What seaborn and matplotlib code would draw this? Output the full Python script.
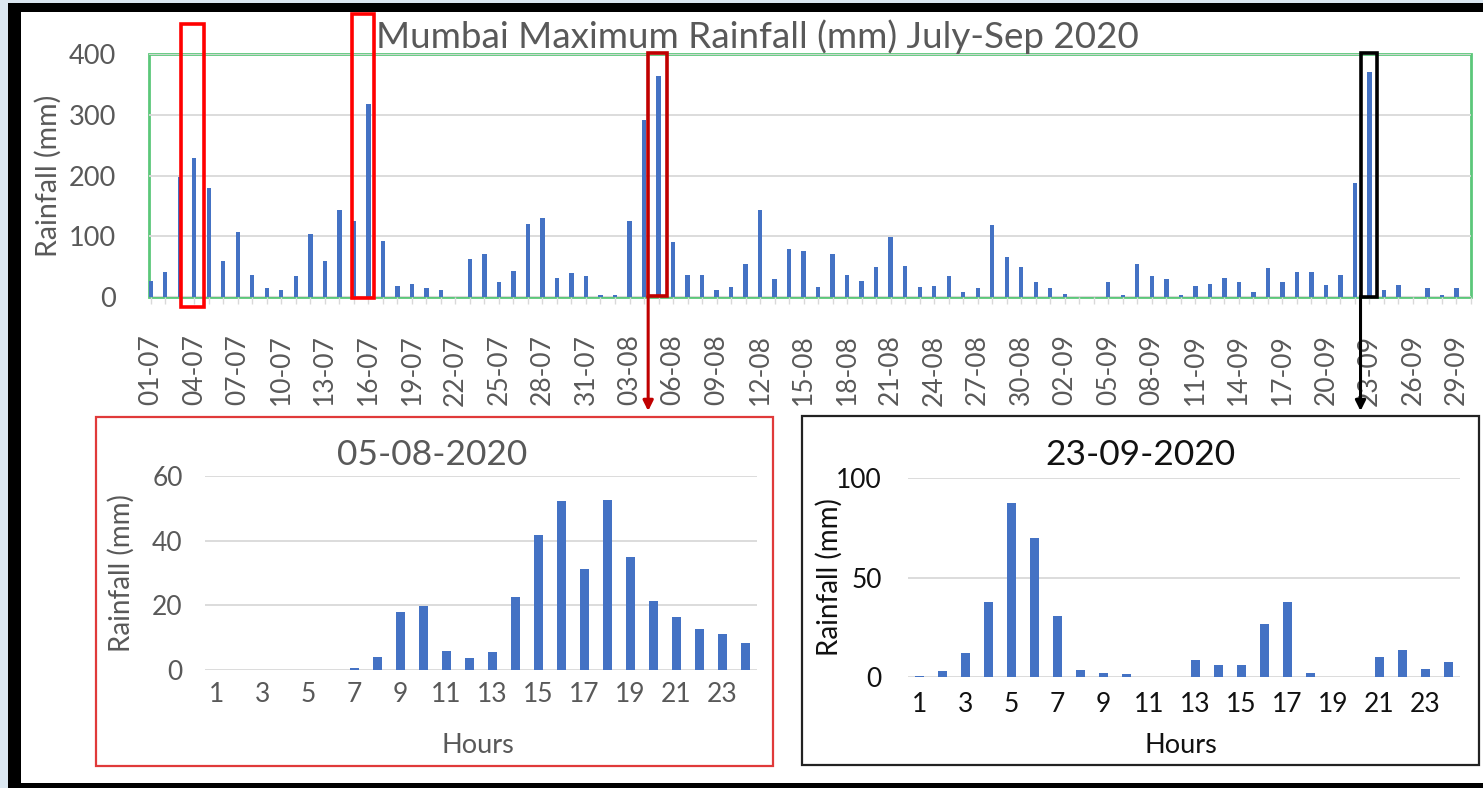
import matplotlib
matplotlib.use("Agg")
import matplotlib.pyplot as plt
import seaborn as sns
import pandas as pd
from matplotlib.patches import Rectangle

# ---------------- data ----------------
july_rain = [27, 41, 198, 229, 180, 59, 107, 36, 15, 11, 35, 103, 59, 144, 125, 318,
             92, 18, 22, 14, 11, 0, 62, 70, 24, 43, 120, 130, 31, 40, 35]
aug_rain = [4, 3, 125, 292, 364, 91, 37, 37, 11, 16, 55, 143, 30, 79, 76, 16,
            70, 37, 27, 49, 99, 51, 16, 18, 35, 8, 14, 119, 66, 49, 25]
sep_rain = [15, 5, 0, 0, 25, 4, 54, 34, 29, 3, 18, 22, 31, 24, 9, 48,
            24, 41, 41, 19, 36, 188, 371, 11, 19, 0, 14, 4, 14, 0]
dates = ([f"{d:02d}-07" for d in range(1, 32)] +
         [f"{d:02d}-08" for d in range(1, 32)] +
         [f"{d:02d}-09" for d in range(1, 31)])
daily_rain = july_rain + aug_rain + sep_rain

hours = [str(h) for h in range(1, 25)]
hourly_0508 = [0, 0, 0, 0, 0, 0, 0.6, 4.1, 17.8, 19.7, 5.8, 3.6, 5.6, 22.6,
               41.8, 52.3, 31.2, 52.7, 34.8, 21.2, 16.3, 12.6, 11.0, 8.3]
hourly_2309 = [0.7, 3.0, 12.1, 37.9, 87.3, 70.0, 30.6, 3.3, 2.0, 1.3, 0, 0,
               8.3, 6.1, 6.1, 26.8, 37.9, 2.0, 0, 0, 10.3, 13.7, 3.8, 7.3]

main_title = "Mumbai Maximum Rainfall (mm) July-Sep 2020"
inset1_title = "05-08-2020"
inset2_title = "23-09-2020"
y_label = "Rainfall (mm)"
x_label_inset = "Hours"

# highlighted dates: (date, x offset, width, y bottom, y top, colour)
highlights = [("04-07", -0.12, 1.58, -16.5, 449, "#ff0000"),
              ("16-07", -0.37, 1.52, -1.6, 466, "#ff0000"),
              ("05-08", -0.08, 1.27, 1.6, 402, "#c00000"),
              ("23-09", -0.03, 1.17, 0.0, 402, "#000000")]

# ---------------- style ----------------
sns.set_style("white")
plt.rcParams["font.family"] = ["Lato", "DejaVu Sans"]
BLUE = "#4472c4"
GREY = "#595959"
GRID = "#d9d9d9"

W, H = 1483, 788
fig = plt.figure(figsize=(W / 100, H / 100), dpi=100)
fig.patch.set_facecolor("#dbe7f1")


def fbox(x0, y0, x1, y1):
    """pixel box (top-left origin) -> figure fraction rect"""
    return [x0 / W, 1 - y1 / H, (x1 - x0) / W, (y1 - y0) / H]


# outer frame
fig.patches.append(Rectangle((8 / W, 0), 1, 1 - 3 / H, transform=fig.transFigure,
                             facecolor="black", edgecolor="none", zorder=-10))
fig.patches.append(Rectangle((21 / W, 5 / H), 1, 1 - 17 / H, transform=fig.transFigure,
                             facecolor="white", edgecolor="none", zorder=-9))

# ---------------- main chart ----------------
ax = fig.add_axes(fbox(149, 54, 1471, 297))
df = pd.DataFrame({"date": dates, "rain": daily_rain})
sns.barplot(data=df, x="date", y="rain", color=BLUE, saturation=1, width=0.3,
            linewidth=0, ax=ax)
ax.set_xlim(-0.12, len(dates) - 1.04)
ax.set_ylim(0, 400)
ax.set_yticks([0, 100, 200, 300, 400])
ax.yaxis.grid(True, color=GRID, linewidth=1.3)
ax.set_axisbelow(True)
for s in ax.spines.values():
    s.set_visible(False)
ax.add_patch(Rectangle((0, 0), 1, 1, transform=ax.transAxes, fill=False,
                       edgecolor="#5cc77a", linewidth=2, clip_on=False, zorder=0.5))
ax.axhline(0, color=GRID, linewidth=1.5, zorder=0.6)
ax.set_xticks(range(len(dates)))
ax.set_xticklabels([d if i % 3 == 0 else "" for i, d in enumerate(dates)],
                   rotation=90)
ax.tick_params(axis="x", length=5, width=1, color=GRID, pad=22, labelsize=19,
               labelcolor=GREY, bottom=True)
ax.tick_params(axis="y", length=0, pad=24, labelsize=19.5, labelcolor=GREY)
ax.set_xlabel("")
ax.set_ylabel(y_label, fontsize=20.5, color=GREY)
ax.yaxis.set_label_coords(-0.066, 0.5)

# highlight boxes
for d, dx, bw, yb, yt, col in highlights:
    i = dates.index(d)
    ax.add_patch(Rectangle((i + dx - bw / 2, yb), bw, yt - yb, fill=False,
                           edgecolor=col, linewidth=2.6, clip_on=False, zorder=5))

fig.text(757 / W, 1 - 37 / H, main_title, ha="center", va="center",
         fontsize=26.5, color=GREY)

# arrows from boxes to insets
for d, dx, bw, col in [("05-08", -0.08, 1.27, "#c00000"), ("23-09", -0.03, 1.17, "#000000")]:
    i = dates.index(d)
    xpix = ax.transData.transform((i + dx - bw / 2, 0))[0]
    ax.annotate("", xy=(xpix, H - 411), xycoords="figure pixels",
                xytext=(xpix, H - 296), textcoords="figure pixels",
                arrowprops=dict(arrowstyle="-|>,head_length=0.6,head_width=0.3",
                                color=col, lw=2.2, shrinkA=0, shrinkB=0))

# inset frames
fig.patches.append(Rectangle((96 / W, 1 - 766 / H), (773 - 96) / W, (766 - 417) / H,
                             transform=fig.transFigure, fill=False,
                             edgecolor="#e03a3a", linewidth=1.6, zorder=1))
fig.patches.append(Rectangle((802 / W, 1 - 765 / H), (1479 - 802) / W, (765 - 416) / H,
                             transform=fig.transFigure, fill=False,
                             edgecolor="#222222", linewidth=1.6, zorder=1))


def inset(rect, vals, ymax, yticks, title, color, title_xy, lab_x, hours_y, ypad, xpad):
    a = fig.add_axes(rect)
    d = pd.DataFrame({"hour": hours, "rain": vals})
    sns.barplot(data=d, x="hour", y="rain", color=BLUE, saturation=1, width=0.35,
                linewidth=0, ax=a)
    a.set_xlim(-0.5, 23.5)
    a.set_ylim(0, ymax)
    a.set_yticks(yticks)
    a.yaxis.grid(True, color=GRID, linewidth=1.3)
    a.set_axisbelow(True)
    for s in a.spines.values():
        s.set_visible(False)
    a.set_xticks(range(24))
    a.set_xticklabels([h if i % 2 == 0 else "" for i, h in enumerate(hours)])
    a.tick_params(axis="x", length=0, pad=xpad, labelsize=19, labelcolor=color)
    a.tick_params(axis="y", length=0, pad=ypad, labelsize=19, labelcolor=color)
    a.set_xlabel(x_label_inset, fontsize=19.5, color=color)
    a.xaxis.set_label_coords(0.495, hours_y)
    a.set_ylabel(y_label, fontsize=20, color=color)
    a.yaxis.set_label_coords(lab_x, 0.5)
    fig.text(title_xy[0] / W, 1 - title_xy[1] / H, title, ha="center", va="center",
             fontsize=25.5, color=color)
    return a


inset(fbox(205, 476, 757, 670), hourly_0508, 60, [0, 20, 40, 60], inset1_title, GREY,
      (432, 455), -0.127, -0.325, 16, 9)
inset(fbox(908, 478, 1460, 677), hourly_2309, 100, [0, 50, 100], inset2_title, "#111111",
      (1140, 455), -0.118, -0.28, 19, 11)

fig.savefig("out.png", dpi=100, facecolor=fig.get_facecolor())
